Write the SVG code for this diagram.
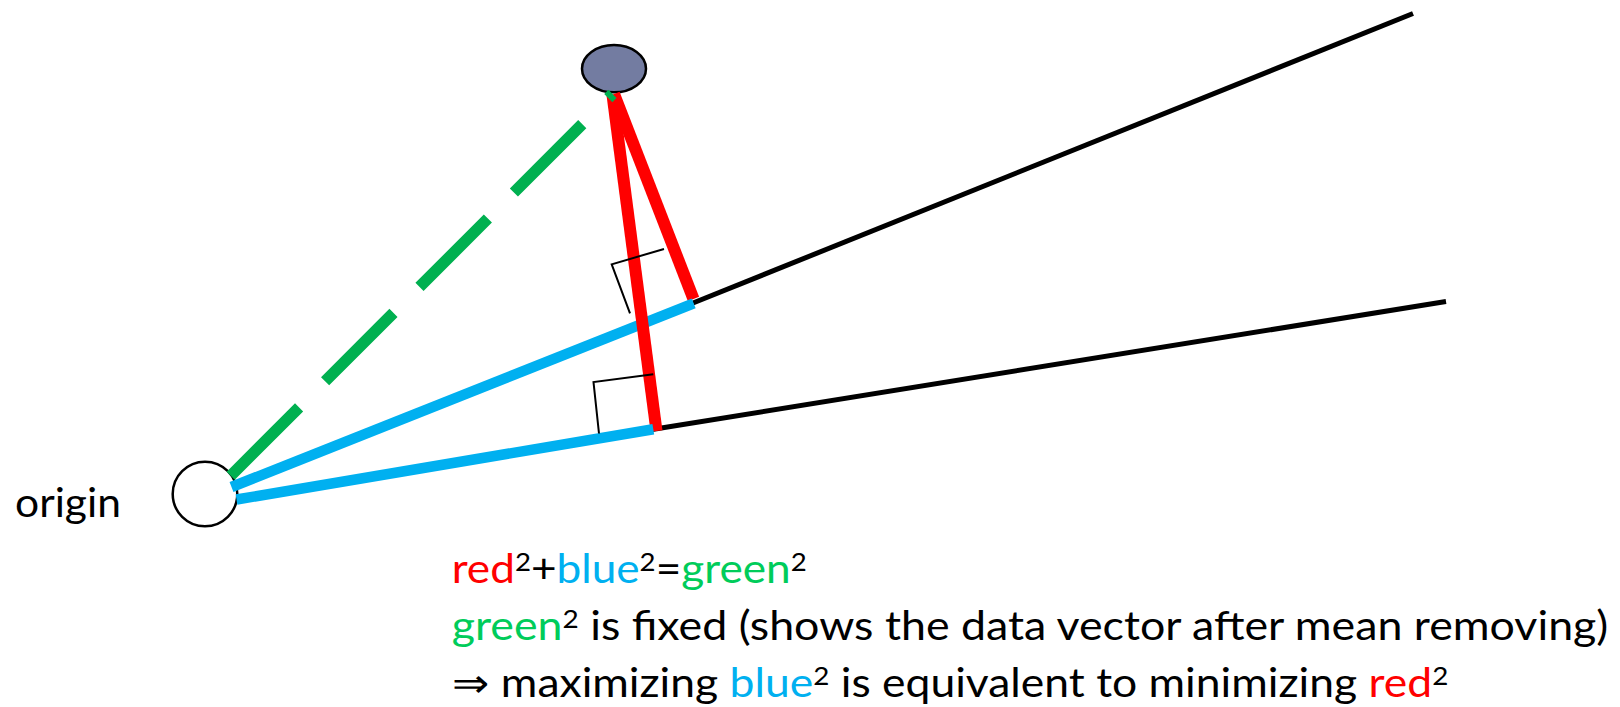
<svg xmlns="http://www.w3.org/2000/svg" width="1620" height="707" viewBox="0 0 1620 707">
<style>
.t{font-family:Lato,"Open Sans","Liberation Sans",sans-serif;font-size:40px;fill:#000}
.sup{font-size:25px}
.r{fill:#FF0000}
.b{fill:#00B0F0}
.g{fill:#00CC5A}
.blk{stroke:#000;stroke-width:5;fill:none}
.red{stroke:#FF0000;stroke-width:12;fill:none}
.blue{stroke:#00B0F0;stroke-width:10.5;fill:none}
.grn{stroke:#00B050;stroke-width:11.5;fill:none;stroke-dasharray:96.7 36.8}
.ra{stroke:#000;stroke-width:2;fill:none}
</style>
<rect width="1620" height="707" fill="#fff"/>
<g id="origin">
<circle cx="205" cy="494" r="32.3" fill="#fff" stroke="#000" stroke-width="2.5"/>
<text class="t" x="15" y="517" textLength="106" lengthAdjust="spacingAndGlyphs">origin</text>
</g>
<g id="data-point">
<ellipse cx="614" cy="68.7" rx="32" ry="23.6" fill="#737CA1" stroke="#000" stroke-width="2.5"/>
</g>
<g id="connectors">
<line class="blk" x1="693" y1="303" x2="1413" y2="13.5"/>
<line class="blk" x1="652" y1="429.5" x2="1446" y2="301.5"/>
<line class="red" x1="614" y1="94" x2="693.5" y2="299"/>
<line class="blue" x1="231.5" y1="487" x2="693.7" y2="303.3"/>
<line class="red" x1="612.5" y1="95" x2="656.5" y2="431"/>
<line class="blue" x1="236.5" y1="499.5" x2="653.3" y2="429.3"/>
<line class="grn" x1="230.7" y1="475.7" x2="612.5" y2="93.9"/>
<polyline class="ra" points="664,249 611.7,264.3 630,313.3"/>
<polyline class="ra" points="653.3,374.3 593.5,382 599,433.5"/>
</g>
<g id="caption">
<text class="t" x="451.7" y="583" textLength="355" lengthAdjust="spacingAndGlyphs"><tspan class="r">red</tspan><tspan class="sup" dy="-12">2</tspan><tspan dy="12">+</tspan><tspan class="b">blue</tspan><tspan class="sup" dy="-12">2</tspan><tspan dy="12">=</tspan><tspan class="g">green</tspan><tspan class="sup" dy="-12">2</tspan></text>
<text class="t" x="451.7" y="640" textLength="1156.6" lengthAdjust="spacingAndGlyphs"><tspan class="g">green</tspan><tspan class="sup" dy="-12">2</tspan><tspan dy="12"> is fixed (shows the data vector after mean removing)</tspan></text>
<text class="t" x="451.7" y="697" textLength="996.6" lengthAdjust="spacingAndGlyphs">⇒ maximizing <tspan class="b">blue</tspan><tspan class="sup" dy="-12">2</tspan><tspan dy="12"> is equivalent to minimizing </tspan><tspan class="r">red</tspan><tspan class="sup" dy="-12">2</tspan></text>
</g>
</svg>
